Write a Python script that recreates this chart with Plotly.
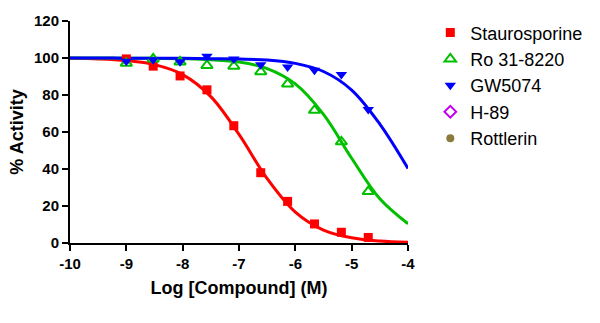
import plotly.graph_objects as go

# Data points (log concentration, % activity)
log_conc = [-9.0, -8.523, -8.046, -7.569, -7.092, -6.614, -6.137, -5.660, -5.183, -4.706]
stauro = [99.5, 95.6, 90.3, 82.8, 63.4, 38.0, 22.5, 10.3, 5.8, 3.0]
ro318220 = [97.2, 99.5, 97.9, 96.0, 95.6, 92.6, 86.0, 71.7, 54.7, 27.8]
gw5074 = [98.2, 99.1, 98.0, 100.9, 99.5, 96.3, 95.2, 93.4, 91.1, 72.2]

# Fitted curves
curve_x = [-10, -9.5, -9, -8.5, -8, -7.5, -7, -6.5, -6, -5.5, -5, -4.5, -4]
stauro_fit = [99.8, 99.5, 98.6, 96.4, 91.0, 79.1, 58.7, 34.8, 16.7, 7.0, 2.8, 1.05, 0.4]
ro_fit = [100.0, 100.0, 99.9, 99.8, 99.6, 99.1, 97.8, 94.3, 86.0, 69.5, 45.8, 23.9, 10.4]
gw_fit = [100.0, 100.0, 99.9, 99.9, 99.8, 99.6, 99.4, 98.9, 97.1, 92.7, 82.7, 64.3, 40.3]

x_ticks = [-10, -9, -8, -7, -6, -5, -4]
y_ticks = [0, 20, 40, 60, 80, 100, 120]

RED = "#FF0000"
GREEN = "#00C000"
BLUE = "#0000FF"
MAGENTA = "#C000F0"
OLIVE = "#8C7A3C"

FONT = "Arial, Liberation Sans, sans-serif"

fig = go.Figure()

for cx, cy, col in [(curve_x, stauro_fit, RED), (curve_x, ro_fit, GREEN), (curve_x, gw_fit, BLUE)]:
    fig.add_trace(go.Scatter(x=cx, y=cy, mode="lines", line=dict(color=col, width=3, shape="spline", smoothing=1.0),
                             showlegend=False, hoverinfo="skip"))

fig.add_trace(go.Scatter(x=log_conc, y=stauro, mode="markers", name="Staurosporine",
                         marker=dict(symbol="square", size=9, color=RED)))
fig.add_trace(go.Scatter(x=log_conc, y=ro318220, mode="markers", name="Ro 31-8220",
                         marker=dict(symbol="triangle-up-open", size=10, color=GREEN, line=dict(width=2, color=GREEN))))
fig.add_trace(go.Scatter(x=log_conc, y=gw5074, mode="markers", name="GW5074",
                         marker=dict(symbol="triangle-down", size=10, color=BLUE)))
fig.add_trace(go.Scatter(x=[None], y=[None], mode="markers", name="H-89",
                         marker=dict(symbol="diamond-open", size=9, color=MAGENTA, line=dict(width=2, color=MAGENTA))))
fig.add_trace(go.Scatter(x=[None], y=[None], mode="markers", name="Rottlerin",
                         marker=dict(symbol="circle", size=8, color=OLIVE)))

fig.update_layout(
    width=600, height=323,
    margin=dict(l=70, r=192, t=17, b=80),
    paper_bgcolor="white", plot_bgcolor="white",
    font=dict(family=FONT, color="black"),
    legend=dict(x=1.066, y=1.03, xanchor="left", yanchor="top",
                font=dict(family=FONT, size=18, color="black"),
                itemwidth=30, tracegroupgap=0, bgcolor="rgba(0,0,0,0)"),
    xaxis=dict(range=[-10, -4], tickvals=x_ticks, ticktext=[str(v) for v in x_ticks],
               showline=True, linecolor="black", linewidth=2, ticks="outside", ticklen=6,
               tickwidth=2, tickcolor="black", showgrid=False, zeroline=False,
               tickfont=dict(family=FONT, size=15, color="black", weight="bold"),
               title=dict(text="Log [Compound] (M)", font=dict(family=FONT, size=18, color="black", weight="bold"),
                          standoff=10)),
    yaxis=dict(range=[0, 120], tickvals=y_ticks,
               showline=True, linecolor="black", linewidth=2, ticks="outside", ticklen=6,
               tickwidth=2, tickcolor="black", showgrid=False, zeroline=False,
               tickfont=dict(family=FONT, size=15, color="black", weight="bold"),
               title=dict(text="% Activity", font=dict(family=FONT, size=18, color="black", weight="bold"),
                          standoff=6)),
)

fig.write_html("out.html")
